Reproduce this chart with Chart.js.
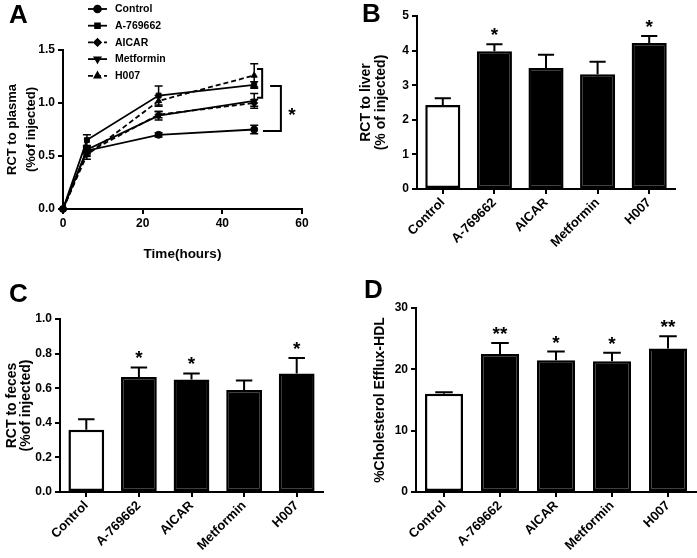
<!doctype html>
<html lang="en">
<head>
<meta charset="utf-8">
<title>AMPK activators and RCT</title>
<style>
  body { margin: 0; background: #fff; }
  #wrap { position: relative; width: 697px; height: 558px; }
  #wrap canvas { position: absolute; }
  .lab { position: absolute; font: bold 26px "Liberation Sans", Arial, sans-serif; line-height: 1; color: #000; z-index: 2; }
</style>
</head>
<body>
<div id="wrap">
  <canvas id="chartA" width="348" height="270" style="left:0;top:0"></canvas>
  <canvas id="chartB" width="347" height="280" style="left:350px;top:0"></canvas>
  <canvas id="chartC" width="350" height="278" style="left:0;top:280px"></canvas>
  <canvas id="chartD" width="347" height="278" style="left:350px;top:280px"></canvas>
  <div class="lab" style="left:9px;top:1px">A</div>
  <div class="lab" style="left:362px;top:0">B</div>
  <div class="lab" style="left:9px;top:280px">C</div>
  <div class="lab" style="left:364px;top:276px">D</div>
</div>
<script src="https://cdn.jsdelivr.net/npm/chart.js@4.4.0/dist/chart.umd.min.js"></script>
<script>
const groups = ['Control', 'A-769662', 'AICAR', 'Metformin', 'H007'];

// A: RCT to plasma over time, mean and SEM
const hours = [0, 6, 24, 48];
const plasmaControl = [0, 0.55, 0.70, 0.75];
const plasmaA769662 = [0, 0.65, 1.07, 1.17];
const plasmaAICAR = [0, 0.53, 0.89, 1.00];
const plasmaMetformin = [0, 0.56, 0.88, 1.02];
const plasmaH007 = [0, 0.51, 1.02, 1.26];
const plasmaControlSem = [0, 0.03, 0.02, 0.04];
const plasmaA769662Sem = [0, 0.05, 0.09, 0.03];
const plasmaAICARSem = [0, 0.03, 0.03, 0.03];
const plasmaMetforminSem = [0, 0.03, 0.04, 0.07];
const plasmaH007Sem = [0, 0.04, 0.05, 0.11];

// B: RCT to liver
const liverMean = [2.43, 3.98, 3.50, 3.32, 4.22];
const liverSem = [0.19, 0.20, 0.38, 0.36, 0.20];
const liverSig = ['', '*', '', '', '*'];

// C: RCT to feces
const fecesMean = [0.36, 0.665, 0.65, 0.59, 0.685];
const fecesSem = [0.06, 0.055, 0.035, 0.055, 0.09];
const fecesSig = ['', '*', '*', '', '*'];

// D: cholesterol efflux to HDL
const effluxMean = [16.0, 22.5, 21.5, 21.3, 23.4];
const effluxSem = [0.25, 1.8, 1.4, 1.4, 2.0];
const effluxSig = ['', '**', '*', '*', '**'];

// significance brackets on panel A (hours / plasma units)
const plasmaBrackets = [
  { x: 50, top: 1.32, bottom: 1.05, topTick: 48.7, bottomTick: 48.7 },
  { x: 54.7, top: 1.16, bottom: 0.735, topTick: 52.0, bottomTick: 50.2 }
];
const plasmaStar = { x: 57.5, y: 0.92, text: '*' };

const FONT = '"Liberation Sans", Arial, sans-serif';
Chart.defaults.font.family = FONT;
Chart.defaults.font.weight = 'bold';
Chart.defaults.font.size = 12;
Chart.defaults.color = '#000';

const axisGrid = { drawOnChartArea: false, color: '#000', lineWidth: 2, tickLength: 5 };
const axisBorder = { color: '#000', width: 2 };

function valueOf(d) { return typeof d === 'object' ? d.y : d; }

const errorBars = {
  id: 'errorBars',
  afterDatasetsDraw(chart) {
    const ctx = chart.ctx;
    chart.data.datasets.forEach((ds, i) => {
      if (!ds.errors) return;
      const meta = chart.getDatasetMeta(i);
      const yScale = chart.scales[meta.yAxisID];
      meta.data.forEach((el, j) => {
        const e = ds.errors[j];
        const v = valueOf(ds.data[j]);
        const top = yScale.getPixelForValue(v + e);
        const half = el.width ? el.width * 0.23 : 4;
        ctx.save();
        ctx.strokeStyle = '#000';
        ctx.lineWidth = el.width ? 2 : 1.5;
        if (e) {
          const bot = el.width ? yScale.getPixelForValue(v) : yScale.getPixelForValue(v - e);
          ctx.beginPath();
          ctx.moveTo(el.x, top); ctx.lineTo(el.x, bot);
          ctx.moveTo(el.x - half, top); ctx.lineTo(el.x + half, top);
          if (!el.width) { ctx.moveTo(el.x - half, bot); ctx.lineTo(el.x + half, bot); }
          ctx.stroke();
        }
        if (ds.marks && ds.marks[j]) {
          ctx.fillStyle = '#000';
          ctx.font = 'bold 19px ' + FONT;
          ctx.textAlign = 'center';
          ctx.textBaseline = 'alphabetic';
          ctx.fillText(ds.marks[j], el.x, top - 3);
        }
        ctx.restore();
      });
    });
  }
};

const markerLegend = {
  id: 'markerLegend',
  afterDraw(chart) {
    const ctx = chart.ctx;
    chart.data.datasets.forEach((ds, i) => {
      const y = 9 + i * 16.7;
      ctx.save();
      ctx.strokeStyle = '#000';
      ctx.fillStyle = '#000';
      ctx.lineWidth = 1.8;
      ctx.setLineDash(ds.borderDash || []);
      ctx.beginPath();
      ctx.moveTo(88, y); ctx.lineTo(107, y);
      ctx.stroke();
      ctx.setLineDash([]);
      Chart.helpers.drawPoint(ctx, { pointStyle: ds.pointStyle, rotation: ds.pointRotation || 0, radius: 3.4, borderWidth: 1 }, 97.5, y);
      ctx.font = 'bold 10.5px ' + FONT;
      ctx.textBaseline = 'middle';
      ctx.fillText(ds.label, 115, y + 0.5);
      ctx.restore();
    });
  }
};

const brackets = {
  id: 'brackets',
  afterDraw(chart) {
    const ctx = chart.ctx, xs = chart.scales.x, ys = chart.scales.y;
    ctx.save();
    ctx.strokeStyle = '#000';
    ctx.lineWidth = 2;
    plasmaBrackets.forEach(b => {
      const x = xs.getPixelForValue(b.x);
      const t = ys.getPixelForValue(b.top), bt = ys.getPixelForValue(b.bottom);
      ctx.beginPath();
      ctx.moveTo(xs.getPixelForValue(b.topTick), t);
      ctx.lineTo(x, t); ctx.lineTo(x, bt);
      ctx.lineTo(xs.getPixelForValue(b.bottomTick), bt);
      ctx.stroke();
    });
    ctx.fillStyle = '#000';
    ctx.font = 'bold 19px ' + FONT;
    ctx.textAlign = 'center';
    ctx.textBaseline = 'middle';
    ctx.fillText(plasmaStar.text, xs.getPixelForValue(plasmaStar.x), ys.getPixelForValue(plasmaStar.y) + 4);
    ctx.restore();
  }
};

function series(label, values, sem, pointStyle, dashed, rotation) {
  return {
    label: label,
    data: hours.map((h, i) => ({ x: h, y: values[i] })),
    errors: sem,
    showLine: true,
    borderColor: '#000',
    backgroundColor: '#000',
    borderWidth: 1.8,
    borderDash: dashed ? [5, 3] : [],
    pointStyle: pointStyle,
    pointRotation: rotation || 0,
    pointRadius: 3.5,
    pointBackgroundColor: '#000',
    pointBorderColor: '#000',
    pointBorderWidth: 1,
    clip: false
  };
}

new Chart(document.getElementById('chartA'), {
  type: 'scatter',
  data: {
    datasets: [
      series('Control', plasmaControl, plasmaControlSem, 'circle', false),
      series('A-769662', plasmaA769662, plasmaA769662Sem, 'rect', false),
      series('AICAR', plasmaAICAR, plasmaAICARSem, 'rectRot', true),
      series('Metformin', plasmaMetformin, plasmaMetforminSem, 'triangle', false, 180),
      series('H007', plasmaH007, plasmaH007Sem, 'triangle', true)
    ]
  },
  options: {
    responsive: false,
    animation: false,
    layout: { padding: { top: 50, right: 46, left: 0, bottom: 0 } },
    plugins: { legend: { display: false }, tooltip: { enabled: false } },
    scales: {
      x: {
        type: 'linear', min: 0, max: 60,
        ticks: { stepSize: 20, padding: 2 },
        grid: axisGrid, border: axisBorder,
        title: { display: true, text: 'Time(hours)', font: { size: 13.5, weight: 'bold' }, padding: { top: 0, bottom: 8 } },
        afterFit: s => { s.height = 61; }
      },
      y: {
        min: 0, max: 1.5,
        ticks: { stepSize: 0.5, padding: 3, callback: v => v.toFixed(1) },
        grid: axisGrid, border: axisBorder,
        title: { display: true, text: ['RCT to plasma', '(%of injected)'], font: { size: 13, weight: 'bold', lineHeight: 1.45 }, padding: { top: 3, bottom: 0 } },
        afterFit: s => { s.width = 63; }
      }
    }
  },
  plugins: [errorBars, markerLegend, brackets]
});

function barChart(id, values, errors, marks, yMax, step, decimals, title, box) {
  return new Chart(document.getElementById(id), {
    type: 'bar',
    data: {
      labels: groups,
      datasets: [{
        data: values,
        errors: errors,
        marks: marks,
        backgroundColor: groups.map((g, i) => i === 0 ? '#fff' : '#000'),
        borderColor: '#000',
        borderWidth: 2.5,
        borderSkipped: false,
        barPercentage: 0.68,
        categoryPercentage: 1
      }]
    },
    options: {
      responsive: false,
      animation: false,
      layout: { padding: { top: box.top, right: box.right, left: 0, bottom: 0 } },
      plugins: { legend: { display: false }, tooltip: { enabled: false } },
      scales: {
        x: {
          ticks: { minRotation: 45, maxRotation: 45, padding: 1, font: { size: 13, weight: 'bold' } },
          grid: Object.assign({ offset: false }, axisGrid), border: axisBorder,
          afterFit: s => { s.height = box.xHeight; }
        },
        y: {
          min: 0, max: yMax,
          ticks: { stepSize: step, padding: 3, callback: v => v.toFixed(decimals) },
          grid: axisGrid, border: axisBorder,
          title: { display: true, text: title, font: { size: 14, weight: 'bold', lineHeight: box.lh }, padding: { top: box.titlePad, bottom: 0 } },
          afterFit: s => { s.width = box.yWidth; }
        }
      }
    },
    plugins: [errorBars]
  });
}

barChart('chartB', liverMean, liverSem, liverSig, 5, 1, 0, ['RCT to liver', '(% of injected)'],
  { top: 16, right: 22, xHeight: 91, yWidth: 67, lh: 1.05, titlePad: 9 });
barChart('chartC', fecesMean, fecesSem, fecesSig, 1.0, 0.2, 1, ['RCT to feces', '(%of injected)'],
  { top: 39, right: 27, xHeight: 66, yWidth: 60, lh: 1.0, titlePad: 5 });
barChart('chartD', effluxMean, effluxSem, effluxSig, 30, 10, 0, '%Cholesterol Efflux-HDL',
  { top: 28, right: 1, xHeight: 66, yWidth: 66, lh: 1.2, titlePad: 22 });
</script>
</body>
</html>
